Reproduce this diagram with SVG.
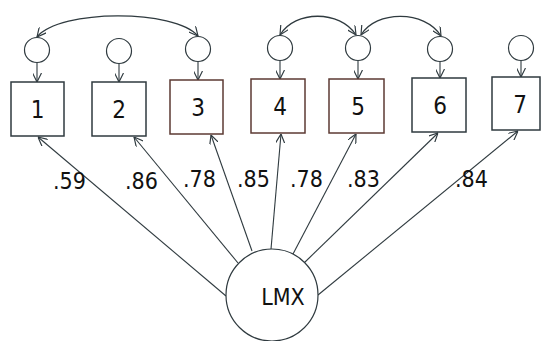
<svg xmlns="http://www.w3.org/2000/svg" width="541" height="341" viewBox="0 0 541 341">
<defs>
<marker id="ah" viewBox="0 0 10 10" refX="10" refY="5" markerWidth="9" markerHeight="9" markerUnits="userSpaceOnUse" orient="auto-start-reverse">
<path d="M0,0 L10,5 L0,10" fill="none" stroke="#2f3a3f" stroke-width="1.3"/>
</marker>
</defs>
<style>
.box{fill:#fff;stroke:#2f3a3f;stroke-width:1.5}
.boxr{fill:#fff;stroke:#5c3a33;stroke-width:1.5}
.err{fill:#fff;stroke:#2f3a3f;stroke-width:1.2}
.lat{fill:#fff;stroke:#2f3a3f;stroke-width:1.2}
.con{fill:none;stroke:#2f3a3f;stroke-width:1.1;marker-end:url(#ah)}
.cov{fill:none;stroke:#2f3a3f;stroke-width:1.3;marker-start:url(#ah);marker-end:url(#ah)}
.lbl{font-family:"DejaVu Sans Condensed","DejaVu Sans",sans-serif;font-stretch:condensed;font-size:23px;fill:#111}
.num{font-family:"DejaVu Sans Condensed","DejaVu Sans",sans-serif;font-stretch:condensed;font-size:24px;fill:#111;text-anchor:middle}
</style>
<rect width="541" height="341" fill="#fff"/>
<g id="connectors">
<path class="cov" d="M37,37 C60,9 175,9 198,36"/>
<path class="cov" d="M280,35 C295,10 340,10 356,35"/>
<path class="cov" d="M361,35 C376,10 425,10 441,36"/>
<line class="con" x1="37" y1="62.5" x2="37" y2="82"/>
<line class="con" x1="119" y1="63.5" x2="119" y2="82"/>
<line class="con" x1="198" y1="61.5" x2="198" y2="80"/>
<line class="con" x1="280" y1="60.5" x2="280" y2="79"/>
<line class="con" x1="358" y1="60.5" x2="358" y2="79"/>
<line class="con" x1="440" y1="61.5" x2="440" y2="78"/>
<line class="con" x1="521" y1="60.5" x2="521" y2="77"/>
<line class="con" x1="226" y1="296" x2="38" y2="137"/>
<line class="con" x1="238" y1="263" x2="134" y2="137"/>
<line class="con" x1="252" y1="251" x2="211" y2="135"/>
<line class="con" x1="271" y1="249" x2="281" y2="134"/>
<line class="con" x1="293" y1="254" x2="356" y2="134"/>
<line class="con" x1="304" y1="263" x2="438" y2="133"/>
<line class="con" x1="318" y1="295" x2="518" y2="131"/>
</g>
<g id="e1"><circle class="err" cx="37" cy="50" r="12.5"/></g>
<g id="e2"><circle class="err" cx="119" cy="51" r="12.5"/></g>
<g id="e3"><circle class="err" cx="198" cy="49" r="12.5"/></g>
<g id="e4"><circle class="err" cx="280" cy="48" r="12.5"/></g>
<g id="e5"><circle class="err" cx="358" cy="48" r="12.5"/></g>
<g id="e6"><circle class="err" cx="440" cy="49" r="12.5"/></g>
<g id="e7"><circle class="err" cx="521" cy="48" r="12.5"/></g>
<g id="v1"><rect class="box" x="11" y="82" width="53" height="54"/><text class="num" x="37.5" y="118">1</text></g>
<g id="v2"><rect class="box" x="92" y="82" width="54" height="54"/><text class="num" x="119" y="118">2</text></g>
<g id="v3"><rect class="boxr" x="170" y="80" width="53" height="54"/><text class="num" x="198" y="116">3</text></g>
<g id="v4"><rect class="boxr" x="251" y="79" width="54" height="54"/><text class="num" x="280" y="115">4</text></g>
<g id="v5"><rect class="boxr" x="329" y="79" width="55" height="54"/><text class="num" x="358" y="115">5</text></g>
<g id="v6"><rect class="box" x="412" y="78" width="54" height="54"/><text class="num" x="440" y="114">6</text></g>
<g id="v7"><rect class="box" x="492" y="77" width="48" height="53"/><text class="num" x="520" y="113">7</text></g>
<g id="lmx"><circle class="lat" cx="272" cy="295" r="46"/><text class="lbl" x="283" y="305" text-anchor="middle">LMX</text></g>
<g id="loadings">
<text class="lbl" x="53" y="189">.59</text>
<text class="lbl" x="125" y="189">.86</text>
<text class="lbl" x="183" y="187">.78</text>
<text class="lbl" x="237" y="187">.85</text>
<text class="lbl" x="290" y="187">.78</text>
<text class="lbl" x="347" y="187">.83</text>
<text class="lbl" x="455" y="187">.84</text>
</g>
</svg>
